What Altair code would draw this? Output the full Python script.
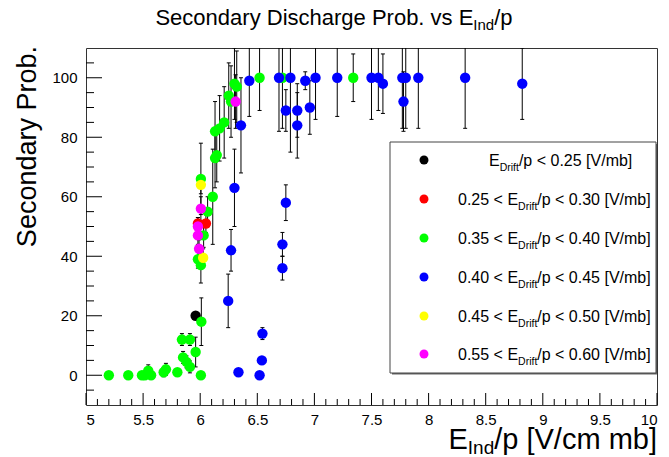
import altair as alt
import pandas as pd

# ---------------- data ----------------
black_x = [5.96]
black_y = [20]
black_err = [1]

red_x = [5.98, 6.05]
red_y = [51, 51]
red_err = [2, 3]

green_x = [5.20, 5.37, 5.49, 5.515, 5.545, 5.57, 5.68, 5.70, 5.80, 5.84, 5.85, 5.88,
           5.91, 5.91, 5.96, 6.006, 6.01, 6.006, 5.98, 6.03, 6.065, 6.006, 6.11, 6.13,
           6.145, 6.13, 6.17, 6.21, 6.25, 6.27, 6.30, 6.32, 6.52, 6.72, 7.34]
green_y = [0, 0, 0, 0, 1.5, 0, 1, 2, 1, 12, 6, 4.5,
           2.8, 12, 7.8, 0, 18, 37, 39, 47, 55, 66, 60, 73,
           74, 82, 83, 85, 94, 92, 98, 97, 100, 100, 100]
green_err = [0.5, 0.5, 0.5, 0.5, 2, 0.5, 1.5, 2, 1, 2, 2, 2,
             2, 2, 5, 0.5, 8, 6, 3, 4, 5, 12, 16, 10,
             9, 10, 11, 12, 11, 12, 12, 12, 11, 17, 8]

blue_x = [6.245, 6.27, 6.30, 6.335, 6.357, 6.43, 6.52, 6.54, 6.545, 6.69, 6.72, 6.72,
          6.75, 6.75, 6.79, 6.85, 6.85, 6.92, 6.96, 7.01, 7.20, 7.50, 7.56, 7.60,
          7.77, 7.80, 7.78, 7.91, 8.32, 8.82]
blue_y = [25, 42, 63, 1, 84, 99, 0, 5, 14, 100, 44, 36,
          58, 89, 100, 89, 84, 99, 90, 100, 100, 100, 100, 98,
          100, 100, 92, 100, 100, 98]
blue_err = [9, 7, 13, 1, 16, 12, 0.5, 1, 2, 18, 4, 4,
            6, 7, 25, 9, 11, 3, 9, 14, 13, 14, 11, 10,
            17, 17, 10, 17, 17, 12]

yellow_x = [6.006, 6.026]
yellow_y = [64, 39.5]
yellow_err = [3, 3]

magenta_x = [6.31, 6.006, 5.98, 5.98, 5.99]
magenta_y = [92, 56, 50, 47, 42.5]
magenta_err = [9, 4, 3, 3, 3]

series_names = ["black", "red", "green", "blue", "yellow", "magenta"]
series_colors = ["#000000", "#ff0000", "#00ff00", "#0000ff", "#ffff00", "#ff00ff"]
legend_lo = ["", "0.25 < ", "0.35 < ", "0.40 < ", "0.45 < ", "0.55 < "]
legend_hi = ["0.25", "0.30", "0.40", "0.45", "0.50", "0.60"]

x_major = [5, 5.5, 6, 6.5, 7, 7.5, 8, 8.5, 9, 9.5, 10]
x_minor = [5.1, 5.2, 5.3, 5.4, 5.6, 5.7, 5.8, 5.9, 6.1, 6.2, 6.3, 6.4, 6.6, 6.7, 6.8, 6.9,
           7.1, 7.2, 7.3, 7.4, 7.6, 7.7, 7.8, 7.9, 8.1, 8.2, 8.3, 8.4, 8.6, 8.7, 8.8, 8.9,
           9.1, 9.2, 9.3, 9.4, 9.6, 9.7, 9.8, 9.9]
y_major = [0, 20, 40, 60, 80, 100]
y_minor = [-5, 5, 10, 15, 25, 30, 35, 45, 50, 55, 65, 70, 75, 85, 90, 95, 105]

# ---------------- build table ----------------
rows = []
all_series = [
    (black_x, black_y, black_err),
    (red_x, red_y, red_err),
    (green_x, green_y, green_err),
    (blue_x, blue_y, blue_err),
    (yellow_x, yellow_y, yellow_err),
    (magenta_x, magenta_y, magenta_err),
]
for name, (xs, ys, es) in zip(series_names, all_series):
    for xv, yv, ev in zip(xs, ys, es):
        rows.append({"x": xv, "y": yv, "lo": yv - ev, "hi": yv + ev, "s": name})
df = pd.DataFrame(rows)

# ---------------- layout ----------------
PL, PT, W, H = 86, 48, 571, 357
FONT = "Liberation Sans"

XS = alt.Scale(domain=[5, 10], nice=False, zero=False)
YS = alt.Scale(domain=[-10, 110], nice=False, zero=False)
CS = alt.Scale(domain=series_names, range=series_colors)

AW = {" ": 278, ".": 278, "/": 278, "<": 584, "[": 278, "]": 278,
      "A": 667, "D": 722, "E": 667, "I": 278, "P": 667, "S": 667, "V": 667,
      "a": 556, "b": 556, "c": 500, "d": 556, "e": 556, "f": 278, "g": 556,
      "h": 556, "i": 222, "m": 833, "n": 556, "o": 556, "p": 556, "r": 333,
      "s": 500, "t": 278, "v": 500, "y": 500}


def tw(s, size):
    return sum(AW.get(ch, 556) for ch in s) / 1000.0 * size


one = pd.DataFrame({"a": [0]})


def txt(s, ax, ay, size, align="left", angle=0):
    return alt.Chart(one).mark_text(
        text=s, font=FONT, fontSize=size, align=align, baseline="alphabetic",
        angle=angle, color="black"
    ).encode(x=alt.value(ax - PL), y=alt.value(ay - PT))


def sub_text(parts, x0, base, size, subsize, suboff):
    layers = []
    x = x0
    for s, is_sub in parts:
        if is_sub:
            layers.append(txt(s, x, base + suboff, subsize))
            x += tw(s, subsize)
        else:
            layers.append(txt(s, x, base, size))
            x += tw(s, size)
    return layers


def total_w(parts, size, subsize):
    return sum(tw(s, subsize if b else size) for s, b in parts)


base = alt.Chart(df)

# error bars
err = base.mark_rule(color="black", strokeWidth=1, clip=True).encode(
    x=alt.X("x:Q", scale=XS, axis=alt.Axis(values=x_major, format="~g", ticks=False, domain=False,
                                            grid=False, labelFont=FONT, labelFontSize=15,
                                            labelColor="black", labelPadding=7, title=None)),
    y=alt.Y("lo:Q", scale=YS, axis=alt.Axis(values=y_major, ticks=False, domain=False, grid=False,
                                             labelFont=FONT, labelFontSize=15, labelColor="black",
                                             labelPadding=9, title=None)),
    y2="hi:Q",
)
cap_lo = base.mark_rule(color="black", strokeWidth=1, clip=True, xOffset=-2, x2Offset=2).encode(
    x=alt.X("x:Q", scale=XS), x2="x:Q", y=alt.Y("lo:Q", scale=YS))
cap_hi = base.mark_rule(color="black", strokeWidth=1, clip=True, xOffset=-2, x2Offset=2).encode(
    x=alt.X("x:Q", scale=XS), x2="x:Q", y=alt.Y("hi:Q", scale=YS))

pts = base.mark_point(filled=True, size=108, opacity=1, shape="circle", clip=True).encode(
    x=alt.X("x:Q", scale=XS),
    y=alt.Y("y:Q", scale=YS),
    color=alt.Color("s:N", scale=CS, legend=None),
)

# inward ticks
xmaj = alt.Chart(pd.DataFrame({"v": x_major})).mark_rule(color="black").encode(
    x=alt.X("v:Q", scale=XS), y=alt.value(H), y2=alt.value(H - 12))
xmin = alt.Chart(pd.DataFrame({"v": x_minor})).mark_rule(color="black").encode(
    x=alt.X("v:Q", scale=XS), y=alt.value(H), y2=alt.value(H - 6))
ymaj = alt.Chart(pd.DataFrame({"v": y_major})).mark_rule(color="black").encode(
    y=alt.Y("v:Q", scale=YS), x=alt.value(0), x2=alt.value(16))
ymin = alt.Chart(pd.DataFrame({"v": y_minor})).mark_rule(color="black").encode(
    y=alt.Y("v:Q", scale=YS), x=alt.value(0), x2=alt.value(8))

layers = [err, cap_lo, cap_hi, pts, xmaj, xmin, ymaj, ymin]

# legend box
LX0, LX1, LY0, LY1 = 390, 656, 142, 373
layers.append(alt.Chart(one).mark_rect(fill="#666666").encode(
    x=alt.value(LX0 + 2 - PL), x2=alt.value(LX1 + 1 - PL),
    y=alt.value(LY0 + 2 - PT), y2=alt.value(LY1 + 1.5 - PT)))
layers.append(alt.Chart(one).mark_rect(fill="white", stroke="#444444", strokeWidth=1).encode(
    x=alt.value(LX0 - PL), x2=alt.value(LX1 - PL),
    y=alt.value(LY0 - PT), y2=alt.value(LY1 - PT)))

row_y = [160, 199, 238, 277, 316, 354]
leg_df = pd.DataFrame({"s": series_names, "py": [r - PT for r in row_y]})
layers.append(alt.Chart(leg_df).mark_point(filled=True, size=80, opacity=1, shape="circle").encode(
    x=alt.value(424 - PL), y=alt.Y("py:Q", scale=None),
    color=alt.Color("s:N", scale=CS, legend=None)))

LS, LSS = 16, 10.5
for i in range(6):
    parts = [(legend_lo[i] + "E", False), ("Drift", True),
             ("/p < " + legend_hi[i] + " [V/mb]", False)]
    x0 = 489 if i == 0 else 458
    layers += sub_text(parts, x0, row_y[i] + 6, LS, LSS, 5)

# title
TS, TSS = 22, 15
tparts = [("Secondary Discharge Prob. vs E", False), ("Ind", True), ("/p", False)]
tx0 = 334 - total_w(tparts, TS, TSS) / 2
layers += sub_text(tparts, tx0, 25, TS, TSS, 5)

# x axis title
XT, XTS = 29, 19
xparts = [("E", False), ("Ind", True), ("/p [V/cm mb]", False)]
xx0 = 657 - total_w(xparts, XT, XTS)
layers += sub_text(xparts, xx0, 449, XT, XTS, 5)

# y axis title
layers.append(txt("Secondary Prob.", 36, 46, 27, align="right", angle=270))

chart = alt.layer(*layers).properties(
    width=W, height=H,
    padding={"left": PL, "top": PT, "right": 669 - PL - W, "bottom": 457 - PT - H},
    autosize=alt.AutoSizeParams(type="none"),
    background="white",
).configure_view(stroke="#333333", strokeWidth=1)

chart.save("out.html", embed_options={"renderer": "svg", "actions": False})
